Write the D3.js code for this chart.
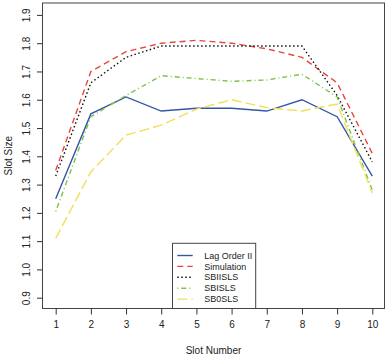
<!DOCTYPE html>
<html><head><meta charset="utf-8">
<script src="https://cdn.jsdelivr.net/npm/d3@7"></script>
<style>body{margin:0;background:#fff}svg{display:block;font-family:"Liberation Sans",Arial,sans-serif}</style>
</head><body><svg id="c" width="388" height="356"></svg>
<script>
const slots = [1,2,3,4,5,6,7,8,9,10];
const yTicks = [0.9,1.0,1.1,1.2,1.3,1.4,1.5,1.6,1.7,1.8,1.9];
const seriesNames = ["Lag Order II","Simulation","SBIISLS","SBISLS","SB0SLS"];
const lagOrderII = [1.25,1.55,1.61,1.56,1.57,1.57,1.56,1.60,1.54,1.33];
const simulation = [1.35,1.70,1.77,1.80,1.81,1.80,1.78,1.75,1.66,1.41];
const sbiisls    = [1.33,1.66,1.75,1.79,1.79,1.79,1.79,1.79,1.615,1.38];
const sbisls     = [1.205,1.54,1.615,1.685,1.675,1.665,1.67,1.69,1.61,1.28];
const sb0sls     = [1.11,1.345,1.475,1.51,1.567,1.60,1.572,1.56,1.585,1.27];
const seriesValues = [lagOrderII, simulation, sbiisls, sbisls, sb0sls];
const colors = ["#3556a5","#e8463c","#111111","#7cc443","#f0e05a"];
const dashes = [null,"6,4","1.5,2.5","1,3,5,3","10,4"];

const svg = d3.select("#c");
const x = d3.scaleLinear().domain([1,10]).range([55.7,372.3]);
const y = d3.scaleLinear().domain([0.9,1.9]).range([297.7,14.9]);
const box = {x0:42.5, x1:384.5, y0:3, y1:308.5};

const line = d3.line().x((d,i)=>x(slots[i])).y(d=>y(d));
seriesValues.forEach((vals,k)=>{
  svg.append("path").datum(vals).attr("d",line)
    .attr("fill","none").attr("stroke",colors[k]).attr("stroke-width",1.4)
    .attr("stroke-dasharray",dashes[k]);
});

// box
svg.append("rect").attr("x",box.x0).attr("y",box.y0)
  .attr("width",box.x1-box.x0).attr("height",box.y1-box.y0)
  .attr("fill","none").attr("stroke","#444").attr("stroke-width",1);

// x axis
const xa = svg.append("g").attr("transform",`translate(0,${box.y1})`)
  .call(d3.axisBottom(x).tickValues(slots).tickSize(6).tickPadding(6).tickFormat(d3.format("d")));
xa.select(".domain").remove();
xa.selectAll("line").attr("stroke","#333");
xa.selectAll("text").attr("font-size",10).attr("fill","#222").attr("font-family","Liberation Sans, Arial, sans-serif");

// y axis
const ya = svg.append("g").attr("transform",`translate(${box.x0},0)`)
  .call(d3.axisLeft(y).tickValues(yTicks).tickSize(5.5).tickFormat(d3.format(".1f")));
ya.select(".domain").remove();
ya.selectAll("line").attr("stroke","#333");
ya.selectAll("text").attr("x",null).attr("dy",null)
  .attr("font-size",10).attr("fill","#222").attr("font-family","Liberation Sans, Arial, sans-serif")
  .attr("text-anchor","middle")
  .attr("transform",`translate(${29.5-box.x0},0) rotate(-90)`);

// axis titles
svg.append("text").attr("x",(box.x0+box.x1)/2).attr("y",354).attr("text-anchor","middle")
  .attr("font-size",10).attr("fill","#222").text("Slot Number");
svg.append("text").attr("transform",`translate(11.5,${(box.y0+box.y1)/2}) rotate(-90)`)
  .attr("text-anchor","middle").attr("font-size",10).attr("fill","#222").text("Slot Size");

// legend
const lg = svg.append("g");
lg.append("rect").attr("x",172.5).attr("y",243.3).attr("width",83.2).attr("height",box.y1-243.3)
  .attr("fill","#fff").attr("stroke","#444").attr("stroke-width",1);
seriesNames.forEach((n,k)=>{
  const yy = 255.5 + k*10.9;
  lg.append("line").attr("x1",177.3).attr("x2",192.7).attr("y1",yy).attr("y2",yy)
    .attr("stroke",colors[k]).attr("stroke-width",1.4).attr("stroke-dasharray",dashes[k]);
  lg.append("text").attr("x",204.3).attr("y",yy).attr("dy","0.35em")
    .attr("font-size",9).attr("fill","#222").text(n);
});
</script></body></html>
